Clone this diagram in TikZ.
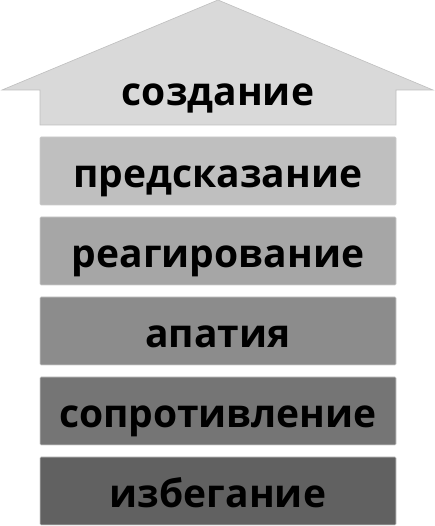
\documentclass[tikz,border=0pt]{standalone}
\usepackage{fontspec}
\setmainfont{Open Sans}
\usetikzlibrary{positioning}

\tikzset{
  level/.style={draw=black!20, line width=0.6pt, rounded corners=1pt,
    minimum width=356pt, minimum height=68pt, inner sep=0pt,
    text height=34pt, text depth=0pt,
    font=\bfseries\fontsize{39}{39}\selectfont},
}

\begin{document}
\begin{tikzpicture}[x=1pt,y=1pt]
\useasboundingbox (0,0) rectangle (435,526);
% arrow on top
\coordinate (SL) at (40,401);
\coordinate (SR) at (396,401);
\coordinate (TL) at (40,436);
\coordinate (TR) at (396,436);
\coordinate (WL) at (2,436);
\coordinate (WR) at (433,436);
\coordinate (TIP) at (218,526);
\filldraw[fill=black!15, draw=black!25, line width=0.6pt]
  (SL) -- (TL) -- (WL) -- (TIP) -- (WR) -- (TR) -- (SR) -- cycle;
\node[font=\bfseries\fontsize{39}{39}\selectfont, anchor=base] (top) at (218,420) {создание};
% levels
\foreach \txt/\shade [count=\i] in {предсказание/25, реагирование/35, апатия/45,
    сопротивление/54, избегание/62}
  \node[level, fill=black!\shade] (L\i) at (218,435-80*\i) {\txt};
\end{tikzpicture}
\end{document}
